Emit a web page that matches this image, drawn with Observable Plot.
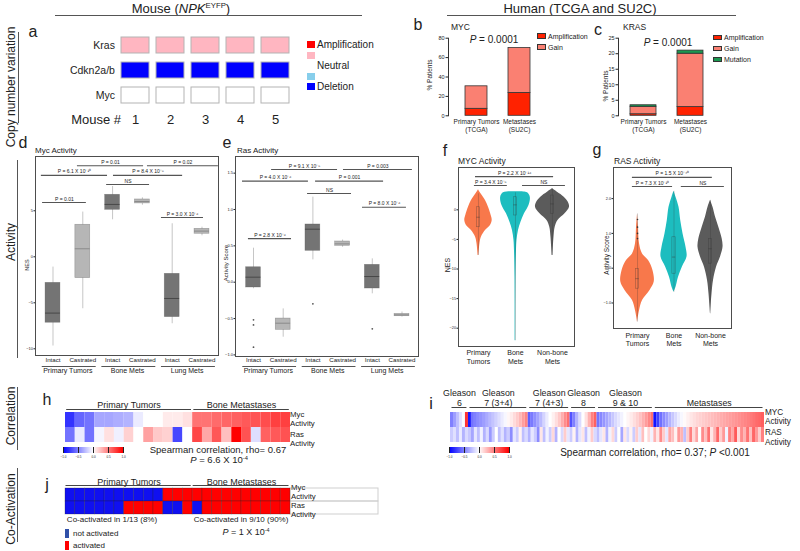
<!DOCTYPE html>
<html><head><meta charset="utf-8">
<script src="https://cdn.jsdelivr.net/npm/d3@7"></script>
<script src="https://cdn.jsdelivr.net/npm/@observablehq/plot@0.6"></script>
<style>
html,body{margin:0;padding:0;background:#fff;}
#fig{position:relative;width:800px;height:551px;overflow:hidden;font-family:'Liberation Sans',Arial,Helvetica,sans-serif;color:#222;background:#fff;}
#fig svg{position:absolute;overflow:visible;}
sup{font-size:0.6em;vertical-align:0;position:relative;top:-0.6em;line-height:0;}
</style></head><body><div id="fig"></div>
<script>
// ---------------- DATA ----------------
// Panel a
const miceIds = [1, 2, 3, 4, 5];
const cnvGenes = ["Kras", "Cdkn2a/b", "Myc"];
const cnvStates = [
  ["Gain", "Gain", "Gain", "Gain", "Gain"],
  ["Deletion", "Deletion", "Deletion", "Deletion", "Deletion"],
  ["Neutral", "Neutral", "Neutral", "Neutral", "Neutral"]
];
const cnvCategories = ["Amplification", "Gain", "Neutral", "Loss", "Deletion"];
const cnvLegendText = ["Amplification", "", "Neutral", "", "Deletion"];
const cnvColors = ["#ff0000", "#ffb6c1", "#ffffff", "#87ceeb", "#0000ff"];

// Panels b, c
const humanGroups = ["Primary Tumors\n(TCGA)", "Metastases\n(SU2C)"];
const alterTypes = ["Amplification", "Gain", "Mutation"];
const alterColors = ["#ff2200", "#fa8072", "#1a9850"];
const mycAmp = [7.2, 23.6];
const mycGain = [23.2, 46.3];
const krasAmp = [0.5, 2.8];
const krasGain = [2.4, 17.2];
const krasMut = [0.5, 1.0];

// Panels d, e (box plots)
const boxCond = ["Intact", "Castrated", "Intact", "Castrated", "Intact", "Castrated"];
const boxSite = ["Primary Tumors", "Primary Tumors", "Bone Mets", "Bone Mets", "Lung Mets", "Lung Mets"];
const mycLo  = [-9.7, -5.65, 4.02, 5.6, -7.28, 2.28];
const mycQ1  = [-7.17, -2.32, 5.1, 5.8, -6.56, 2.5];
const mycMed = [-6.12, 0.87, 5.69, 6.01, -4.53, 2.79];
const mycQ3  = [-2.83, 3.48, 6.74, 6.23, -1.85, 3.04];
const mycHi  = [-1.12, 4.86, 7.64, 6.41, 3.59, 3.22];
const rasLo  = [-0.09, -0.757, 0.307, 0.48, -0.16, -0.48];
const rasQ1  = [-0.073, -0.656, 0.431, 0.5, -0.087, -0.468];
const rasMed = [0.069, -0.564, 0.729, 0.527, 0.078, -0.45];
const rasQ3  = [0.206, -0.5, 0.794, 0.56, 0.239, -0.436];
const rasHi  = [0.468, -0.367, 1.17, 0.58, 0.321, -0.41];
const rasOutIdx = [0, 0, 0, 2, 4];
const rasOutVal = [-0.518, -0.587, -0.894, -0.298, -0.642];
const dBrLabel = ["P = 0.01", "P = 0.02", "P = 6.1 X 10⁻¹⁰", "P = 8.4 X 10⁻⁸", "NS", "P = 0.01", "P = 3.0 X 10⁻⁶"];
const dBrFrom = [0.82, 3.17, -0.39, 2.03, 1.8, -0.35, 3.64];
const dBrTo   = [3.04, 5.55, 1.83, 4.35, 3.24, 1.12, 5.05];
const dBrAt   = [9.9, 9.9, 8.85, 8.85, 7.85, 5.9, 4.27];
const eBrLabel = ["P = 9.1 X 10⁻⁵", "P = 0.003", "P = 4.0 X 10⁻⁶", "P = 0.001", "NS", "P = 8.0 X 10⁻⁶", "P = 2.8 X 10⁻⁶"];
const eBrFrom = [0.61, 3.03, -0.37, 2.09, 1.82, 3.67, -0.17];
const eBrTo   = [2.83, 5.35, 1.85, 4.38, 3.3, 5.15, 1.28];
const eBrAt   = [1.55, 1.55, 1.39, 1.39, 1.22, 1.03, 0.6];

// Panels f, g (violins): profile levels and half-widths
const violinGroups = ["Primary\nTumors", "Bone\nMets", "Non-bone\nMets"];
const violinColors = ["#f8784b", "#1dbdbf", "#5b5b5b"];
const fPrimV = [3.4, 2.7, 1.57, 0.44, -0.96, -1.8, -2.65, -3.5, -4.6, -5.7, -7.7];
const fPrimW = [0, 2.5, 7, 10, 12.7, 13.7, 12, 7, 3, 1.5, 0.4];
const fBoneV = [3.05, 2.87, 2.13, 0.73, -0.68, -2.1, -3.5, -5.2, -6.9, -11.4, -22.1];
const fBoneW = [4, 12, 14.8, 13.5, 9, 5.5, 3, 1.5, 1, 0.5, 0.3];
const fNonV  = [3.55, 2.97, 2.13, 1.28, 0.44, -0.68, -1.8, -2.94, -4.63, -7.7];
const fNonW  = [0, 5, 11.7, 15.8, 17, 12.5, 5.5, 2.7, 1.5, 0.4];
const fLo  = [-7.7, -22.1, -7.7];
const fQ1  = [-2.94, -0.96, -0.68];
const fMed = [-1.25, 0.84, 1.0];
const fQ3  = [0.44, 2.13, 2.41];
const fHi  = [2.7, 2.87, 3.55];
const fBrLabel = ["P = 2.2 X 10⁻¹⁶", "P = 3.4 X 10⁻⁵", "NS"];
const fBrFrom = [-0.08, -0.11, 1.19];
const fBrTo   = [2.03, 0.78, 2.35];
const fBrAt   = [5.6, 4.1, 4.1];
const gPrimV = [1.56, 1.18, 0.7, 0.41, 0.22, -0.07, -0.4, -0.64, -0.93, -1.22, -1.55];
const gPrimW = [0, 1, 2, 5, 11, 15.5, 16.7, 12.5, 5, 2, 0];
const gBoneV = [2.21, 2.04, 1.75, 1.37, 0.99, 0.6, 0.32, 0.03, -0.26, -0.55, -0.69];
const gBoneW = [0, 2, 5, 6.7, 9, 12, 13, 8.3, 4.5, 2, 0];
const gNonV  = [1.95, 1.75, 1.47, 1.18, 0.84, 0.6, 0.32, 0.03, -0.35, -0.74, -1.31];
const gNonW  = [0, 2.5, 5, 8.3, 11.7, 12.5, 10, 6, 3, 1.5, 0];
const gLo  = [-1.55, -0.69, -1.31];
const gQ1  = [-0.59, -0.16, 0.13];
const gMed = [-0.3, 0.32, 0.56];
const gQ3  = [-0.02, 0.89, 0.84];
const gHi  = [1.56, 2.21, 1.95];
const gOutVal = [1.4, 1.18, 1.0, 0.85];
const gBrLabel = ["P = 1.5 X 10⁻⁴⁰", "P = 7.3 X 10⁻¹⁰", "NS"];
const gBrFrom = [-0.14, -0.14, 1.2];
const gBrTo   = [2.05, 0.96, 2.38];
const gBrAt   = [2.61, 2.35, 2.35];

// Panel h heatmap (13 primary + 10 bone)
const hGroupNames = ["Primary Tumors", "Bone Metastases"];
const hGroupSizes = [13, 10];
const hMyc = [-0.8, -0.6, -0.55, -0.35, -0.35, -0.32, -0.3, -0.08, 0, 0, 0.08, 0.08, 0.12,
              0.55, 0.55, 0.58, 0.6, 0.62, 0.65, 0.67, 0.7, 0.75, 0.75];
const hRas = [-0.55, -0.08, -0.55, -0.04, 0.12, -0.06, 0.18, 0, 0.37, 0.21, 0.18, -0.72, 0,
              0.72, 0.34, 0.66, 0.25, 1.0, 0.68, -0.13, 0.62, 0.65, 0.68];

// Panel i heatmap
const iGroupNames = ["Gleason\n6", "Gleason\n7 (3+4)", "Gleason\n7 (4+3)", "Gleason\n8", "Gleason\n9 & 10", "Metastases"];
const iGroupSizes = [6, 20, 14, 9, 19, 37];
const iMyc = [
  -0.5, -0.38, -0.25, -0.12, -0.02, 0.8,
  -0.9, -0.55, -0.5, -0.45, -0.42, -0.38, -0.33, -0.28, -0.23, -0.18, -0.13, -0.08, -0.03, 0.03, 0.08, 0.14, 0.2, 0.28, 0.38, 0.48,
  -0.62, -0.52, -0.44, -0.36, -0.27, -0.17, -0.08, 0.0, 0.06, 0.13, 0.21, 0.32, 0.45, 0.56,
  -0.68, -0.5, -0.3, -0.14, 0.0, 0.12, 0.3, 0.5, 0.62,
  -0.55, -0.47, -0.41, -0.35, -0.29, -0.22, -0.15, -0.1, -0.05, 0.0, 0.04, 0.08, 0.13, 0.18, 0.24, 0.31, 0.39, 0.47, 0.56,
  -0.92, -0.75, -0.56, -0.46, -0.38, -0.3, -0.22, -0.15, -0.08, -0.03, 0.02, 0.06, 0.1, 0.13, 0.16, 0.18, 0.2, 0.22, 0.24, 0.26,
  0.28, 0.3, 0.32, 0.34, 0.36, 0.38, 0.4, 0.42, 0.44, 0.46, 0.48, 0.5, 0.52, 0.55, 0.58, 0.6, 0.63];
const iRas = [
  -0.2, -0.12, -0.25, -0.08, -0.3, -0.15,
  -0.22, -0.35, -0.1, -0.25, -0.05, -0.3, -0.15, -0.4, -0.2, 0.0, -0.25, -0.12, -0.3, -0.2, -0.45, -0.1, -0.2, 0.05, -0.25, -0.15,
  -0.3, -0.1, -0.2, -0.45, 0.1, -0.25, -0.05, -0.2, 0.15, -0.3, 0.0, -0.15, 0.2, -0.1,
  -0.2, 0.05, -0.3, -0.1, 0.1, -0.25, -0.05, 0.2, -0.15,
  -0.25, -0.1, 0.1, -0.3, -0.05, 0.15, -0.2, 0.0, -0.35, 0.1, -0.15, 0.05, -0.2, 0.2, -0.1, 0.25, 0.0, 0.15, -0.05,
  0.3, 0.1, 0.45, 0.2, -0.1, 0.35, 0.25, 0.05, 0.4, 0.3, -0.25, 0.2, 0.5, 0.15, 0.35, 0.0, 0.45, 0.25, 0.55, 0.1,
  0.3, 0.6, 0.2, 0.4, -0.05, 0.5, 0.35, 0.65, 0.15, 0.45, 0.3, 0.55, 0.25, 0.6, 0.4, 0.2, 0.5];

// Panel j co-activation
const jGroupNames = ["Primary Tumors", "Bone Metastases"];
const jGroupSizes = [13, 10];
const jMycAct = [0,0,0,0,0,0,0,0,0,0,1,1,1, 1,1,1,1,1,1,1,1,1,1];
const jRasAct = [0,0,0,0,0,0,1,1,1,1,0,0,1, 0,1,1,1,1,1,1,1,1,1];
const jStates = ["not activated", "activated"];
const jColors = ["#1010f0", "#ff0000"];
const jLegendColors = ["#3050a8", "#ff0000"];

const heatRange = ["#0000ff", "#ffffff", "#ff0000"];

// ---------------- HELPERS ----------------
const FONT = "'Liberation Sans', Arial, Helvetica, sans-serif";
const fig = document.getElementById("fig");
const ST = {background: "none", overflow: "visible", fontFamily: FONT, color: "#222"};
function place(el, x, y) { el.style.position = "absolute"; el.style.left = x + "px"; el.style.top = y + "px"; fig.appendChild(el); return el; }
function txt(html, x, y, o = {}) {
  const d = document.createElement("div");
  d.innerHTML = html;
  const ax = o.anchor === "start" ? "0" : o.anchor === "end" ? "-100%" : "-50%";
  Object.assign(d.style, {position: "absolute", left: x + "px", top: y + "px", fontSize: (o.size || 10) + "px",
    lineHeight: String(o.lh || 1), whiteSpace: "nowrap", fontFamily: FONT, color: o.color || "#222",
    textAlign: o.anchor === "start" ? "left" : "center",
    transform: `translate(${ax},-50%)` + (o.rotate ? ` rotate(${o.rotate}deg)` : "")});
  fig.appendChild(d); return d;
}
function box(x, y, w, h, bg, border) {
  const d = document.createElement("div");
  Object.assign(d.style, {position: "absolute", left: x + "px", top: y + "px", width: w + "px", height: h + "px",
    background: bg, boxSizing: "border-box", border: border || "none"});
  fig.appendChild(d); return d;
}
function rowLabel(lines, x, y0, pitch, size) { lines.forEach((l, k) => txt(l, x, y0 + k * pitch, {size, anchor: "start"})); }
const groupsFrom = (names, sizes) => { let s = 0; return names.map((n, k) => { const g = {name: n, start: s, end: s + sizes[k]}; s += sizes[k]; return g; }); };

// ---------------- HEADERS & SIDE LABELS ----------------
txt("Mouse (<i>NPK</i><sup>EYFP</sup>)", 181, 8, {size: 13});
box(55, 14.5, 307, 1, "#555");
txt("Human (TCGA and SU2C)", 580, 8, {size: 13});
box(447, 14.5, 289, 1, "#555");
txt("Copy number variation", 11, 87, {size: 12, rotate: -90});
box(17.5, 32, 1.5, 91, "#555");
txt("Activity", 11, 242, {size: 12, rotate: -90});
box(16.5, 160, 1.5, 198, "#555");
txt("Correlation", 11, 416, {size: 12, rotate: -90});
box(16.5, 387, 1.5, 63, "#555");
txt("Co-Activation", 11, 509, {size: 12, rotate: -90});
box(16.5, 468, 1.5, 74, "#555");
[["a", 33, 32], ["b", 418, 25], ["c", 598, 30], ["d", 23, 143], ["e", 227, 143], ["f", 445, 151], ["g", 597, 150],
 ["h", 47, 400], ["i", 431, 404], ["j", 47, 485]].forEach(([l, x, y]) => txt(l, x, y, {size: 16}));

// ---------------- PANEL a ----------------
const aRows = cnvGenes.flatMap((g, gi) => miceIds.map((m, mi) => ({gene: g, mouse: m, state: cnvStates[gi][mi]})));
place(Plot.plot({
  width: 300, height: 135, marginLeft: 115.4, marginRight: 4.4, marginTop: 33.5, marginBottom: 29.4,
  x: {type: "band", domain: miceIds, paddingInner: 0.194, paddingOuter: 0.1, label: null},
  y: {type: "band", domain: cnvGenes, paddingInner: 0.37, paddingOuter: 0.1, label: null},
  color: {type: "ordinal", domain: cnvCategories, range: cnvColors},
  style: ST,
  marks: [
    Plot.cell(aRows, {x: "mouse", y: "gene", fill: "state", stroke: "#b3b3b3", strokeWidth: 1, inset: 0}),
    Plot.axisX({tickSize: 0, tickPadding: 9, fontSize: 13, label: null}),
    Plot.axisY({tickSize: 0, tickPadding: 1, fontSize: 10.5, label: null})
  ]
}), 0, 0);
txt("Mouse #", 121, 119, {size: 13, anchor: "end"});
cnvCategories.forEach((c, k) => {
  box(307, 41 + k * 10.5, 8, 7, cnvColors[k]);
  if (cnvLegendText[k]) txt(cnvLegendText[k], 317, 44.5 + k * 10.5, {size: 10, anchor: "start"});
});

// ---------------- PANELS b, c ----------------
function stackPlot(rows, ymax, ticks, pi, po, mR) {
  return Plot.plot({
    width: 150, height: 125, marginLeft: 48, marginRight: mR, marginTop: 17.7, marginBottom: 29.7,
    x: {type: "band", domain: humanGroups, paddingInner: pi, paddingOuter: po, axis: null, label: null},
    y: {domain: [0, ymax], label: null},
    color: {domain: alterTypes, range: alterColors},
    style: ST,
    marks: [
      Plot.barY(rows, {x: "g", y: "v", fill: "type", stroke: "#333", strokeWidth: 0.8}),
      Plot.axisY({ticks, tickSize: 2.5, tickPadding: 1.5, fontSize: 5.5, label: null}),
      Plot.frame({anchor: "left", stroke: "#333"}),
      Plot.text(humanGroups, {x: d => d, text: d => d, frameAnchor: "bottom", lineAnchor: "top", dy: 2.4, fontSize: 6.5, lineHeight: 1.23})
    ]
  });
}
const bRows = humanGroups.flatMap((g, i) => [{g, type: "Amplification", v: mycAmp[i]}, {g, type: "Gain", v: mycGain[i]}]);
place(stackPlot(bRows, 80, [0, 20, 40, 60, 80], 0.5, 0.364, 4), 400, 20);
const cRows = humanGroups.flatMap((g, i) => [{g, type: "Amplification", v: krasAmp[i]}, {g, type: "Gain", v: krasGain[i]}, {g, type: "Mutation", v: krasMut[i]}]);
place(stackPlot(cRows, 25, [0, 5, 10, 15, 20, 25], 0.447, 0.255, 5), 570, 20);
txt("MYC", 451, 27, {size: 8.5, anchor: "start"});
txt("<i>P</i> = 0.0001", 494, 40, {size: 10});
txt("% Patients", 430, 75, {size: 6.5, rotate: -90});
["Amplification", "Gain"].forEach((t, k) => { box(537, 33 + k * 11, 9, 5.5, alterColors[k], "0.8px solid #333"); txt(t, 548, 36 + k * 11, {size: 7, anchor: "start"}); });
txt("KRAS", 623, 27, {size: 8.5, anchor: "start"});
txt("<i>P</i> = 0.0001", 668, 43, {size: 10});
txt("% Patients", 606, 86, {size: 6.5, rotate: -90});
alterTypes.forEach((t, k) => { box(713, 34.5 + k * 11, 9, 5.5, alterColors[k], "0.8px solid #333"); txt(t, 724, 37.3 + k * 11, {size: 7, anchor: "start"}); });

// ---------------- PANELS d, e ----------------
function boxPlot(o) {
  const rows = boxCond.map((c, i) => ({i, cond: c, lo: o.lo[i], q1: o.q1[i], med: o.med[i], q3: o.q3[i], hi: o.hi[i]}));
  const siteNames = [...new Set(boxSite)];
  const sites = siteNames.map(n => { const idx = boxSite.map((s, i) => s === n ? i : -1).filter(i => i >= 0); return {name: n, i0: d3.min(idx), i1: d3.max(idx)}; });
  const br = o.brLabel.map((l, k) => ({label: l, from: o.brFrom[k], to: o.brTo[k], at: o.brAt[k]}));
  return Plot.plot({
    width: o.width, height: 235, marginLeft: o.mL, marginRight: o.mR, marginTop: 6, marginBottom: o.mB,
    x: {domain: o.xdom, axis: null, label: null},
    y: {domain: o.ydom, label: null},
    color: {domain: ["Intact", "Castrated"], range: ["#747474", "#b6b6b6"]},
    style: ST,
    marks: [
      Plot.ruleX(rows, {x: "i", y1: "lo", y2: "hi", stroke: "#c6c6c6", strokeWidth: 1}),
      Plot.rect(rows, {x1: d => d.i - 0.25, x2: d => d.i + 0.25, y1: "q1", y2: "q3", fill: "cond", stroke: "#555", strokeOpacity: 0.45, strokeWidth: 0.6}),
      Plot.ruleY(rows.filter(d => d.cond === "Intact"), {y: "med", x1: d => d.i - 0.25, x2: d => d.i + 0.25, stroke: "#484848", strokeWidth: 1}),
      Plot.ruleY(rows.filter(d => d.cond === "Castrated"), {y: "med", x1: d => d.i - 0.25, x2: d => d.i + 0.25, stroke: "#8a8a8a", strokeWidth: 1}),
      Plot.dot(o.outliers, {x: "i", y: "v", r: 0.9, fill: "#555", stroke: null}),
      Plot.ruleY(br, {y: "at", x1: "from", x2: "to", stroke: "#555", strokeWidth: 1.1}),
      Plot.text(br, {x: d => (d.from + d.to) / 2, y: "at", text: "label", dy: -3.5, fontSize: 5}),
      Plot.frame({stroke: "#4d4d4d"}),
      Plot.axisY({ticks: o.ticks, tickFormat: o.fmt, tickSize: 1.5, tickPadding: 1, fontSize: 4, label: null}),
      Plot.text(rows, {x: "i", text: "cond", frameAnchor: "bottom", dy: o.dy1, fontSize: 6.2}),
      Plot.ruleY(sites, {x1: d => d.i0 - 0.36, x2: d => d.i1 + 0.45, y: () => o.ydom[0], dy: o.dy1 + 5, stroke: "#555", strokeWidth: 1}),
      Plot.text(sites, {x: d => (d.i0 + d.i1) / 2, text: "name", frameAnchor: "bottom", dy: o.dy1 + 11, fontSize: 7})
    ]
  });
}
place(boxPlot({width: 225, mL: 35, mR: 7, mB: 30, xdom: [-0.587, 5.554], ydom: [-10.73, 10.9],
  lo: mycLo, q1: mycQ1, med: mycMed, q3: mycQ3, hi: mycHi, outliers: [],
  brLabel: dBrLabel, brFrom: dBrFrom, brTo: dBrTo, brAt: dBrAt, ticks: [-10, -5, 0, 5], fmt: null, dy1: 6}), 0, 150);
place(boxPlot({width: 220, mL: 30, mR: 7, mB: 29, xdom: [-0.606, 5.556], ydom: [-1.022, 1.729],
  lo: rasLo, q1: rasQ1, med: rasMed, q3: rasQ3, hi: rasHi,
  outliers: rasOutIdx.map((i, k) => ({i, v: rasOutVal[k]})),
  brLabel: eBrLabel, brFrom: eBrFrom, brTo: eBrTo, brAt: eBrAt, ticks: [-1, -0.5, 0, 0.5, 1, 1.5], fmt: ".1f", dy1: 5}), 205, 150);
txt("Myc Activity", 35, 151, {size: 8, anchor: "start"});
txt("NES", 28, 265, {size: 5.5, rotate: -90});
txt("Ras Activity", 237, 151, {size: 8, anchor: "start"});
txt("Activity Score", 226, 263, {size: 6, rotate: -90});

// ---------------- PANELS f, g ----------------
function violinPlot(o) {
  const rows = violinGroups.flatMap((g, i) => o.profV[i].map((v, j) => ({g, i, v, w: o.profW[i][j]})));
  const bx = violinGroups.map((g, i) => ({g, i, lo: o.lo[i], q1: o.q1[i], med: o.med[i], q3: o.q3[i], hi: o.hi[i]}));
  const br = o.brLabel.map((l, k) => ({label: l, from: o.brFrom[k], to: o.brTo[k], at: o.brAt[k]}));
  return Plot.plot({
    width: o.width, height: o.height, marginLeft: o.mL, marginRight: o.mR, marginTop: 17, marginBottom: o.mB,
    x: {domain: o.xdom, axis: null, label: null},
    y: {domain: o.ydom, label: null},
    color: {domain: violinGroups, range: violinColors},
    style: ST,
    marks: [
      Plot.areaX(rows, {y: "v", x1: d => d.i - d.w * o.k, x2: d => d.i + d.w * o.k, z: "g", fill: "g", curve: "catmull-rom"}),
      Plot.ruleX(bx, {x: "i", y1: "lo", y2: "hi", stroke: "#333", strokeOpacity: 0.4, strokeWidth: 0.6}),
      Plot.rect(bx, {x1: d => d.i - 0.045, x2: d => d.i + 0.045, y1: "q1", y2: "q3", fill: "none", stroke: "#333", strokeOpacity: 0.45, strokeWidth: 0.6}),
      Plot.ruleY(bx, {y: "med", x1: d => d.i - 0.045, x2: d => d.i + 0.045, stroke: "#333", strokeOpacity: 0.55, strokeWidth: 0.7}),
      Plot.dot(o.outliers, {x: "i", y: "v", r: 0.8, fill: "#333", stroke: null}),
      Plot.ruleY(br, {y: "at", x1: "from", x2: "to", stroke: "#555", strokeWidth: 1.1}),
      Plot.text(br, {x: d => (d.from + d.to) / 2, y: "at", text: "label", dy: -3.5, fontSize: 5}),
      Plot.frame({stroke: "#4d4d4d"}),
      Plot.axisY({ticks: o.ticks, tickSize: 1.5, tickPadding: 1, fontSize: 3.8, label: null}),
      Plot.text(violinGroups, {x: (d, i) => i, text: d => d, frameAnchor: "bottom", lineAnchor: "top", dy: o.dy1, fontSize: 7, lineHeight: o.lh})
    ]
  });
}
place(violinPlot({width: 170, height: 220, mL: 38, mR: 16, mB: 24, xdom: [-0.54, 2.595], ydom: [-23.09, 7.15], k: 1 / 37,
  profV: [fPrimV, fBoneV, fNonV], profW: [fPrimW, fBoneW, fNonW],
  lo: fLo, q1: fQ1, med: fMed, q3: fQ3, hi: fHi, outliers: [],
  brLabel: fBrLabel, brFrom: fBrFrom, brTo: fBrTo, brAt: fBrAt, ticks: [-20, -15, -10, -5, 0], dy1: 2, lh: 1.29}), 420, 150);
place(violinPlot({width: 150, height: 200, mL: 23, mR: 9, mB: 22, xdom: [-0.658, 2.575], ydom: [-1.733, 2.894], k: 1 / 36.5,
  profV: [gPrimV, gBoneV, gNonV], profW: [gPrimW, gBoneW, gNonW],
  lo: gLo, q1: gQ1, med: gMed, q3: gQ3, hi: gHi, outliers: gOutVal.map(v => ({i: 0, v})),
  brLabel: gBrLabel, brFrom: gBrFrom, brTo: gBrTo, brAt: gBrAt, ticks: [-1, 0, 1, 2], dy1: 3.5, lh: 1.15}), 590, 150);
txt("MYC Activity", 458, 161, {size: 8.5, anchor: "start"});
txt("NES", 447, 265, {size: 7, rotate: -90});
txt("RAS Activity", 614, 161, {size: 8.5, anchor: "start"});
txt("Activity Score", 607, 255, {size: 6.5, rotate: -90});

// ---------------- HEATMAPS h, i ----------------
function heatPlot(o) {
  const rows = [...o.top.map((v, c) => ({row: o.rows[0], c, v})), ...o.bot.map((v, c) => ({row: o.rows[1], c, v}))];
  const groups = groupsFrom(o.groupNames, o.groupSizes);
  return Plot.plot({
    width: o.width, height: o.height, marginLeft: o.mL, marginRight: o.mR, marginTop: o.mT, marginBottom: 3,
    x: {domain: [0, o.top.length], axis: null, label: null},
    y: {type: "band", domain: o.rows, padding: 0, axis: null, label: null},
    color: {type: "linear", domain: [-1, 0, 1], range: heatRange},
    style: ST,
    marks: [
      Plot.barX(rows, {x1: "c", x2: d => d.c + 1, y: "row", fill: "v", inset: 0}),
      Plot.ruleY(groups, {x1: d => d.start + o.gap, x2: d => d.end - o.gap, y: () => o.rows[0], dy: o.ruleDy, stroke: "#444", strokeWidth: 1}),
      Plot.text(groups, {x: d => (d.start + d.end) / 2, y: () => o.rows[0], text: "name", dy: o.textDy, lineAnchor: "bottom", fontSize: o.fs, lineHeight: 1.15})
    ]
  });
}
place(heatPlot({width: 240, height: 55, mL: 5, mR: 10, mT: 22, rows: ["Myc", "Ras"], top: hMyc, bot: hRas,
  groupNames: hGroupNames, groupSizes: hGroupSizes, gap: 0.12, ruleDy: -10.5, textDy: -12.5, fs: 9}), 60, 390);
place(heatPlot({width: 330, height: 65, mL: 10, mR: 6, mT: 32, rows: ["MYC", "RAS"], top: iMyc, bot: iRas,
  groupNames: iGroupNames, groupSizes: iGroupSizes, gap: 0.5, ruleDy: -12.5, textDy: -14, fs: 8.8}), 440, 380);
function ramp() {
  return Plot.legend({color: {type: "linear", domain: [-1, 0, 1], range: heatRange}, label: null, width: 60, height: 13,
    marginTop: 1, marginBottom: 6, marginLeft: 0, marginRight: 0, tickSize: 0, ticks: 4,
    style: {fontSize: "3px", background: "none", fontFamily: FONT, overflow: "visible"}});
}
place(ramp(), 63, 446);
place(ramp(), 449, 446);
rowLabel(["Myc", "Activity"], 290, 414.5, 9, 7.8);
rowLabel(["Ras", "Activity"], 290, 434.5, 9, 7.8);
txt("Spearman correlation, rho= 0.67", 218, 450, {size: 9.5});
txt("<i>P</i> = 6.6 X 10<sup>-4</sup>", 219, 460, {size: 9.5});
rowLabel(["MYC", "Activity"], 765, 412.5, 9.5, 8.2);
rowLabel(["RAS", "Activity"], 765, 433, 9.5, 8.2);
txt("Spearman correlation, rho= 0.37; <i>P</i> &lt;0.001", 655, 453, {size: 10});

// ---------------- PANEL j ----------------
const jRows = [...jMycAct.map((a, c) => ({row: "Myc", c, state: jStates[a]})), ...jRasAct.map((a, c) => ({row: "Ras", c, state: jStates[a]}))];
const jGroups = groupsFrom(jGroupNames, jGroupSizes);
place(Plot.plot({
  width: 330, height: 48, marginLeft: 5, marginRight: 12, marginTop: 18, marginBottom: 4,
  x: {domain: [0, 32], axis: null, label: null},
  y: {type: "band", domain: ["Myc", "Ras"], padding: 0, axis: null, label: null},
  color: {type: "ordinal", domain: jStates, range: jColors},
  style: ST,
  marks: [
    Plot.barX(["Myc", "Ras"], {x1: () => jMycAct.length, x2: () => 32, y: d => d, fill: "none", stroke: "#cfcfcf", strokeWidth: 1}),
    Plot.barX(jRows, {x1: "c", x2: d => d.c + 1, y: "row", fill: "state", stroke: "#222", strokeOpacity: 0.45, strokeWidth: 0.6, inset: 0}),
    Plot.ruleY(jGroups, {x1: d => d.start + 0.05, x2: d => d.end - 0.15, y: () => "Myc", dy: -9.5, stroke: "#444", strokeWidth: 1}),
    Plot.text(jGroups, {x: d => (d.start + d.end) / 2, y: () => "Myc", text: "name", dy: -10.5, lineAnchor: "bottom", fontSize: 9})
  ]
}), 60, 470);
rowLabel(["Myc", "Activity"], 291, 487.5, 9, 7.8);
rowLabel(["Ras", "Activity"], 291, 506, 9, 7.8);
txt("Co-activated in 1/13 (8%)", 112, 520, {size: 8});
txt("Co-activated in 9/10 (90%)", 241, 520, {size: 8});
txt("<i>P</i> = 1 X 10<sup>-4</sup>", 246, 532, {size: 9});
jStates.forEach((s, k) => { box(65, 529 + k * 12, 4, 9, jLegendColors[k]); txt(s, 73, 533.5 + k * 12, {size: 8, anchor: "start"}); });
</script></body></html>
